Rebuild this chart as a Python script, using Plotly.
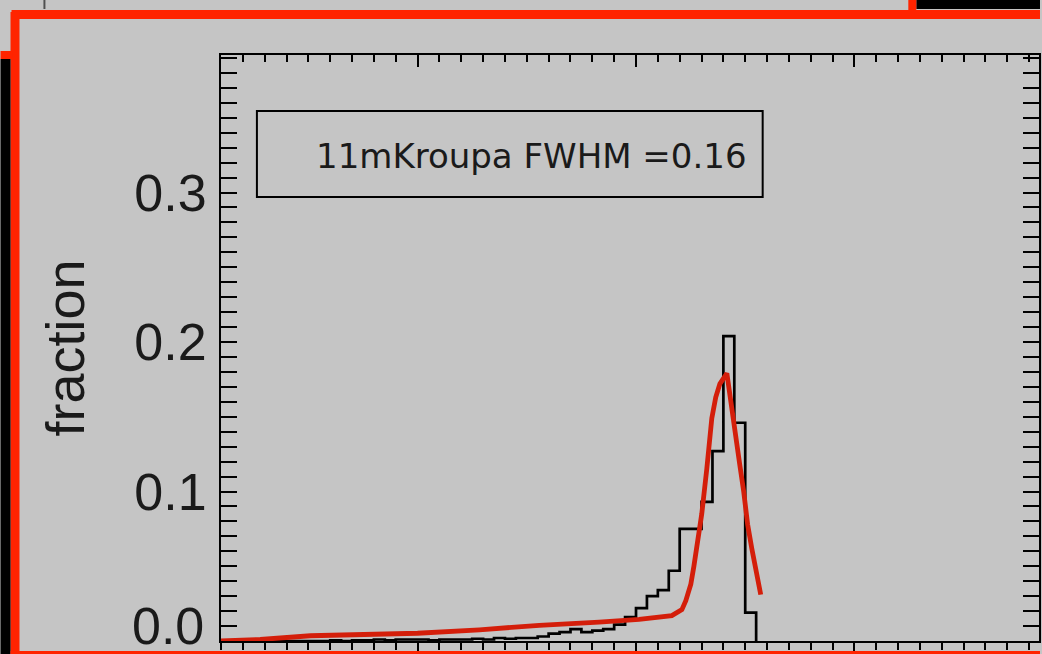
import plotly.graph_objects as go

# ---------------- data ----------------
hist_bin_edges = [-2.90, -2.85, -2.80, -2.75, -2.70, -2.65, -2.60, -2.55, -2.50, -2.45,
                  -2.40, -2.35, -2.30, -2.25, -2.20, -2.15, -2.10, -2.05, -2.00, -1.95,
                  -1.90, -1.85, -1.80, -1.75, -1.70, -1.65, -1.60, -1.55, -1.50, -1.45,
                  -1.40, -1.35, -1.30, -1.25, -1.20, -1.15, -1.10, -1.05, -1.00, -0.95,
                  -0.90, -0.85, -0.80, -0.75, -0.70, -0.65, -0.60, -0.55, -0.50, -0.45]
hist_fraction = [0.0, 0.0, 0.0, 0.0, 0.0, 0.0, 0.0, 0.0, 0.0, 0.0,
                 0.0005, 0.0, 0.0005, 0.0005, 0.001, 0.0005, 0.001, 0.001, 0.001, 0.0005,
                 0.001, 0.001, 0.001, 0.0015, 0.001, 0.002, 0.0015, 0.002, 0.002, 0.003,
                 0.005, 0.006, 0.008, 0.006, 0.007, 0.008, 0.011, 0.016, 0.022, 0.030,
                 0.034, 0.047, 0.075, 0.075, 0.093, 0.127, 0.204, 0.146, 0.019]

model_x = [-2.90, -2.72, -2.49, -2.22, -2.00, -1.717, -1.443, -1.169, -0.986, -0.836,
           -0.790, -0.772, -0.749, -0.735, -0.717, -0.699, -0.676, -0.653, -0.635, -0.616,
           -0.584, -0.562, -0.543, -0.525, -0.507, -0.489, -0.470, -0.452, -0.429]
model_fraction = [0.000, 0.001, 0.0035, 0.0045, 0.0052, 0.0075, 0.0105, 0.0126, 0.0145, 0.017,
                  0.021, 0.027, 0.038, 0.050, 0.068, 0.085, 0.115, 0.149, 0.163, 0.172,
                  0.179, 0.158, 0.140, 0.118, 0.100, 0.078, 0.062, 0.048, 0.031]

y_tick_values = [0.1, 0.2, 0.3]
y_tick_labels = ["0.1", "0.2", "0.3"]
y_bottom_value = 0.0
y_bottom_label = "0.0"
label_text = "11mKroupa FWHM =0.16"
y_title = "fraction"

# ---------------- layout helpers ----------------
W, H = 1042, 654
L, R, T, B = 221, 1041, 55, 641
GREY = "rgb(197,197,197)"
RED = "rgb(255,36,0)"
CURVE_RED = "rgb(212,30,10)"
TXT = "#1a1a1a"
TICK_FONT = dict(family="Liberation Sans, Arial, sans-serif", size=52, color=TXT)


def px(x):
    return (x - L) / (R - L)


def py(y):
    return (B - y) / (B - T)


def rect(x0, y0, x1, y1, fill):
    return dict(type="rect", xref="paper", yref="paper",
                x0=px(x0), x1=px(x1), y0=py(y1), y1=py(y0),
                fillcolor=fill, line=dict(width=0, color=fill), layer="above")


fig = go.Figure()

# histogram drawn as steps: each bin from its left edge to the next edge, closing at zero
fig.add_trace(go.Scatter(
    x=hist_bin_edges, y=hist_fraction + [0.0],
    mode="lines", line=dict(color="black", width=2.7, shape="hv"),
    showlegend=False, hoverinfo="skip"))

fig.add_trace(go.Scatter(
    x=model_x, y=model_fraction,
    mode="lines", line=dict(color=CURVE_RED, width=4.8),
    showlegend=False, hoverinfo="skip"))

# empty trace so the top (mirror) axis exists
fig.add_trace(go.Scatter(x=[None], y=[None], xaxis="x2", showlegend=False, hoverinfo="skip"))

xr = [-2.9, 0.845]
axis_common = dict(showline=True, linecolor="black", linewidth=2, showgrid=False,
                   zeroline=False, tickcolor="black", tickwidth=2)

fig.update_layout(
    width=W, height=H,
    margin=dict(l=L, r=W - R, t=T, b=H - B, pad=0),
    paper_bgcolor=GREY, plot_bgcolor=GREY,
    showlegend=False,
    xaxis=dict(range=xr, ticks="outside", ticklen=10, dtick=1, tick0=0,
               minor=dict(dtick=0.1, ticklen=7, tickwidth=2, ticks="outside", tickcolor="black"),
               showticklabels=False, **axis_common),
    xaxis2=dict(range=xr, overlaying="x", side="top", anchor="y", ticks="inside",
                ticklen=12, dtick=1, tick0=0,
                minor=dict(dtick=0.1, ticklen=7, tickwidth=2, ticks="inside", tickcolor="black"),
                showticklabels=False, **axis_common),
    yaxis=dict(range=[0, 0.392], ticks="inside", ticklen=16, mirror="allticks",
               tickvals=y_tick_values, ticktext=y_tick_labels,
               minor=dict(dtick=0.01, ticklen=8, tickwidth=2, ticks="inside", tickcolor="black"),
               tickfont=TICK_FONT,
               ticklabelstandoff=2,
               title=dict(text=y_title, font=dict(family="Liberation Sans, Arial, sans-serif",
                                                  size=54, color=TXT), standoff=32),
               **axis_common),
)

shapes = [
    # outer frame pieces (cropped neighbouring panels)
    rect(918, 0, 1042, 9, "black"),
    rect(910, 0, 918, 12, RED),
    rect(43, 0, 45, 9, "rgb(80,80,80)"),
    rect(11, 10, 1042, 19, RED),
    rect(10, 12, 19, 654, RED),
    rect(0, 51, 12, 59, RED),
    rect(0, 59, 10, 654, "black"),
    rect(10, 651, 1042, 654, RED),
    # label box
    dict(type="rect", xref="paper", yref="paper",
         x0=px(257), x1=px(764), y0=py(197), y1=py(111),
         line=dict(color="black", width=2), fillcolor="rgba(0,0,0,0)", layer="above"),
]
fig.update_layout(shapes=shapes)

# bottom y tick label (sits just above the lower frame in the original)
fig.add_annotation(xref="paper", yref="y", x=px(206), y=y_bottom_value, yshift=15,
                   xanchor="right", yanchor="middle", showarrow=False,
                   text=y_bottom_label, font=TICK_FONT)

fig.add_annotation(xref="paper", yref="paper", x=px(314), y=py(156),
                   xanchor="left", yanchor="middle", showarrow=False,
                   text=label_text, font=dict(family="DejaVu Sans", size=34, color=TXT))

fig.write_html("out.html")
